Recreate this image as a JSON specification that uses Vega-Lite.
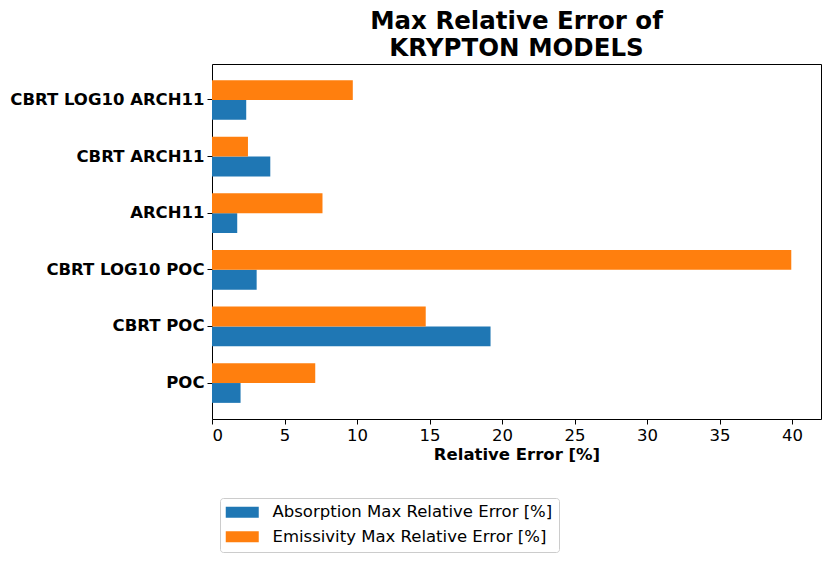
{
  "$schema": "https://vega.github.io/schema/vega-lite/v6.json",
  "width": 609,
  "height": 355,
  "autosize": {"type": "none"},
  "padding": {"left": 212, "top": 64, "right": 9, "bottom": 143},
  "background": "white",
  "config": {
    "font": "DejaVu Sans",
    "view": {"stroke": "black", "strokeWidth": 1},
    "axis": {
      "domain": false,
      "grid": false,
      "tickColor": "black",
      "tickSize": 5,
      "tickWidth": 1,
      "labelColor": "black",
      "labelFontSize": 16.5,
      "labelFont": "DejaVu Sans",
      "titleFont": "DejaVu Sans",
      "titleColor": "black"
    }
  },
  "title": {
    "text": ["Max Relative Error of", " KRYPTON MODELS"],
    "fontSize": 24.5,
    "fontWeight": "bold",
    "font": "DejaVu Sans",
    "color": "black",
    "anchor": "middle",
    "lineHeight": 27,
    "offset": 3
  },
  "data": {
    "values": [
      {"model": "CBRT LOG10 ARCH11", "series": "Absorption Max Relative Error [%]", "error": 2.36},
      {"model": "CBRT LOG10 ARCH11", "series": "Emissivity Max Relative Error [%]", "error": 9.71},
      {"model": "CBRT ARCH11", "series": "Absorption Max Relative Error [%]", "error": 4.02},
      {"model": "CBRT ARCH11", "series": "Emissivity Max Relative Error [%]", "error": 2.48},
      {"model": "ARCH11", "series": "Absorption Max Relative Error [%]", "error": 1.74},
      {"model": "ARCH11", "series": "Emissivity Max Relative Error [%]", "error": 7.62},
      {"model": "CBRT LOG10 POC", "series": "Absorption Max Relative Error [%]", "error": 3.08},
      {"model": "CBRT LOG10 POC", "series": "Emissivity Max Relative Error [%]", "error": 39.95},
      {"model": "CBRT POC", "series": "Absorption Max Relative Error [%]", "error": 19.21},
      {"model": "CBRT POC", "series": "Emissivity Max Relative Error [%]", "error": 14.74},
      {"model": "POC", "series": "Absorption Max Relative Error [%]", "error": 1.97},
      {"model": "POC", "series": "Emissivity Max Relative Error [%]", "error": 7.12}
    ]
  },
  "mark": {"type": "bar"},
  "encoding": {
    "y": {
      "field": "model",
      "type": "nominal",
      "sort": ["CBRT LOG10 ARCH11", "CBRT ARCH11", "ARCH11", "CBRT LOG10 POC", "CBRT POC", "POC"],
      "scale": {"paddingInner": 0.3, "paddingOuter": 0.285},
      "axis": {"title": null, "labelFontWeight": "bold", "labelPadding": 3, "labelLimit": 250}
    },
    "yOffset": {
      "field": "series",
      "type": "nominal",
      "sort": ["Emissivity Max Relative Error [%]", "Absorption Max Relative Error [%]"],
      "scale": {"paddingInner": 0, "paddingOuter": 0}
    },
    "x": {
      "field": "error",
      "type": "quantitative",
      "scale": {"domain": [0, 42], "nice": false, "zero": true},
      "axis": {
        "title": "Relative Error [%]",
        "titleFontSize": 16.5,
        "titleFontWeight": "bold",
        "titlePadding": 3,
        "values": [0, 5, 10, 15, 20, 25, 30, 35, 40],
        "labelPadding": 3
      }
    },
    "color": {
      "field": "series",
      "type": "nominal",
      "scale": {
        "domain": ["Absorption Max Relative Error [%]", "Emissivity Max Relative Error [%]"],
        "range": ["#1f77b4", "#ff7f0e"]
      },
      "legend": {
        "title": null,
        "orient": "none",
        "legendX": 8,
        "legendY": 434,
        "direction": "vertical",
        "symbolType": "M-3,-1H3V1H-3Z",
        "symbolSize": 121,
        "symbolOffset": 8,
        "symbolStrokeWidth": 0,
        "symbolOpacity": 1,
        "labelFontSize": 16.5,
        "labelColor": "black",
        "labelFont": "DejaVu Sans",
        "labelOffset": 22,
        "rowPadding": 7.5,
        "padding": 6,
        "strokeColor": "#cccccc",
        "cornerRadius": 3,
        "fillColor": "white",
        "labelLimit": 400
      }
    }
  }
}
